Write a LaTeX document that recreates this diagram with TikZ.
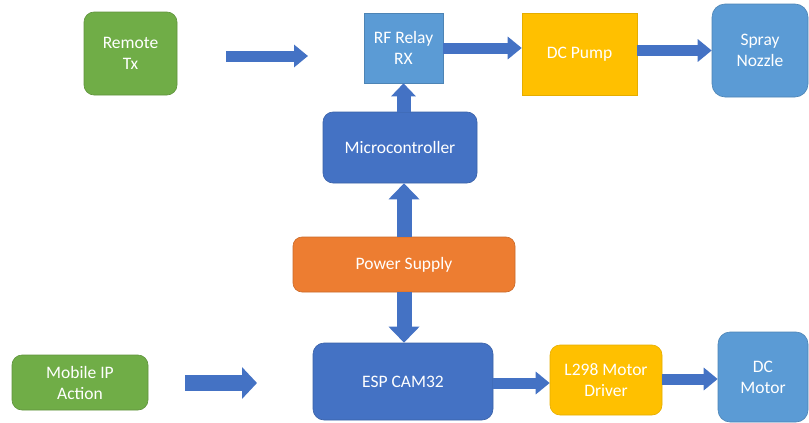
\documentclass[tikz,border=0pt]{standalone}
\usepackage{fontspec}
\setmainfont{Carlito}
\usetikzlibrary{arrows.meta}

\definecolor{leafGreen}{HTML}{70AD47}
\definecolor{skyBlue}{HTML}{5B9BD5}
\definecolor{deepBlue}{HTML}{4472C4}
\definecolor{rustOrange}{HTML}{ED7D31}
\definecolor{amber}{HTML}{FFC000}

\begin{document}
\begin{tikzpicture}[x=1pt, y=-1pt,
		block/.style = {rectangle, text=white, align=center, inner sep=0pt,
			line width=0.6pt, font=\fontsize{17.5}{21}\selectfont},
		leafBox/.style   = {block, fill=leafGreen, draw=leafGreen!85!black},
		skyBox/.style    = {block, fill=skyBlue, draw=skyBlue!85!black},
		deepBox/.style   = {block, fill=deepBlue, draw=deepBlue!85!black},
		rustBox/.style   = {block, fill=rustOrange, draw=rustOrange!85!black},
		amberBox/.style  = {block, fill=amber, draw=amber!90!black},
		pipe/.style      = {draw=deepBlue, line width=11pt,
			-{Triangle[width=22pt, length=14pt]}},
		fatPipe/.style   = {draw=deepBlue, line width=15pt,
			-{Triangle[width=30pt, length=16pt]}}]
	\useasboundingbox (0, 0) rectangle (809, 423);

	% top row
	\path (130.5, 53.5) node (Remote)
		[leafBox, rounded corners=10pt, minimum width=93, minimum height=83]
			{Remote\\Tx};
	\path (403.5, 48) node (Relay)
		[skyBox, minimum width=79, minimum height=70]
			{RF Relay\\RX};
	\path (579.5, 54) node (Pump)
		[amberBox, minimum width=115, minimum height=82]
			{DC Pump};
	\path (760, 50.5) node (Nozzle)
		[skyBox, rounded corners=13pt, minimum width=96, minimum height=93]
			{Spray\\Nozzle};

	% middle column
	\path (400, 147.5) node (MCU)
		[deepBox, rounded corners=10pt, minimum width=154, minimum height=71]
			{Microcontroller};
	\path (404, 264.5) node (Power)
		[rustBox, rounded corners=9pt, minimum width=222, minimum height=55]
			{Power Supply};

	% bottom row
	\path (80, 382.5) node (Mobile)
		[leafBox, rounded corners=10pt, minimum width=136, minimum height=55]
			{Mobile IP\\Action};
	\path (403, 381.5) node (ESP)
		[deepBox, rounded corners=11pt, minimum width=180, minimum height=77]
			{ESP CAM32};
	\path (606, 380) node (Driver)
		[amberBox, rounded corners=10pt, minimum width=112, minimum height=70]
			{L298 Motor\\Driver};
	\path (763, 377) node (Motor)
		[skyBox, rounded corners=12pt, minimum width=90, minimum height=90]
			{DC\\Motor};

	% loose arrows
	\coordinate (txFrom) at (226, 56);
	\coordinate (txTo)   at (308, 56);
	\coordinate (ipFrom) at (185, 383);
	\coordinate (ipTo)   at (257, 383);
	\draw [pipe] (txFrom) -- (txTo);
	\draw [fatPipe, line width=16pt, -{Triangle[width=31pt, length=15pt]}]
		(ipFrom) -- (ipTo);

	% links between blocks
	\draw [pipe] (Relay.east) -- (Relay.east -| Pump.west);
	\draw [pipe] (Pump.east |- Nozzle.west) -- (Nozzle.west);
	\draw [pipe, line width=14pt, -{Triangle[width=24pt, length=13pt]}]
		(Relay.south |- MCU.north) -- (Relay.south);
	\draw [fatPipe] (Power.north) -- (Power.north |- MCU.south);
	\draw [fatPipe] (Power.south) -- (Power.south |- ESP.north);
	\draw [pipe] (ESP.east |- 0, 383) -- (Driver.west |- 0, 383);
	\draw [pipe] (Driver.east |- 0, 379) -- (Motor.west |- 0, 379);
\end{tikzpicture}
\end{document}
